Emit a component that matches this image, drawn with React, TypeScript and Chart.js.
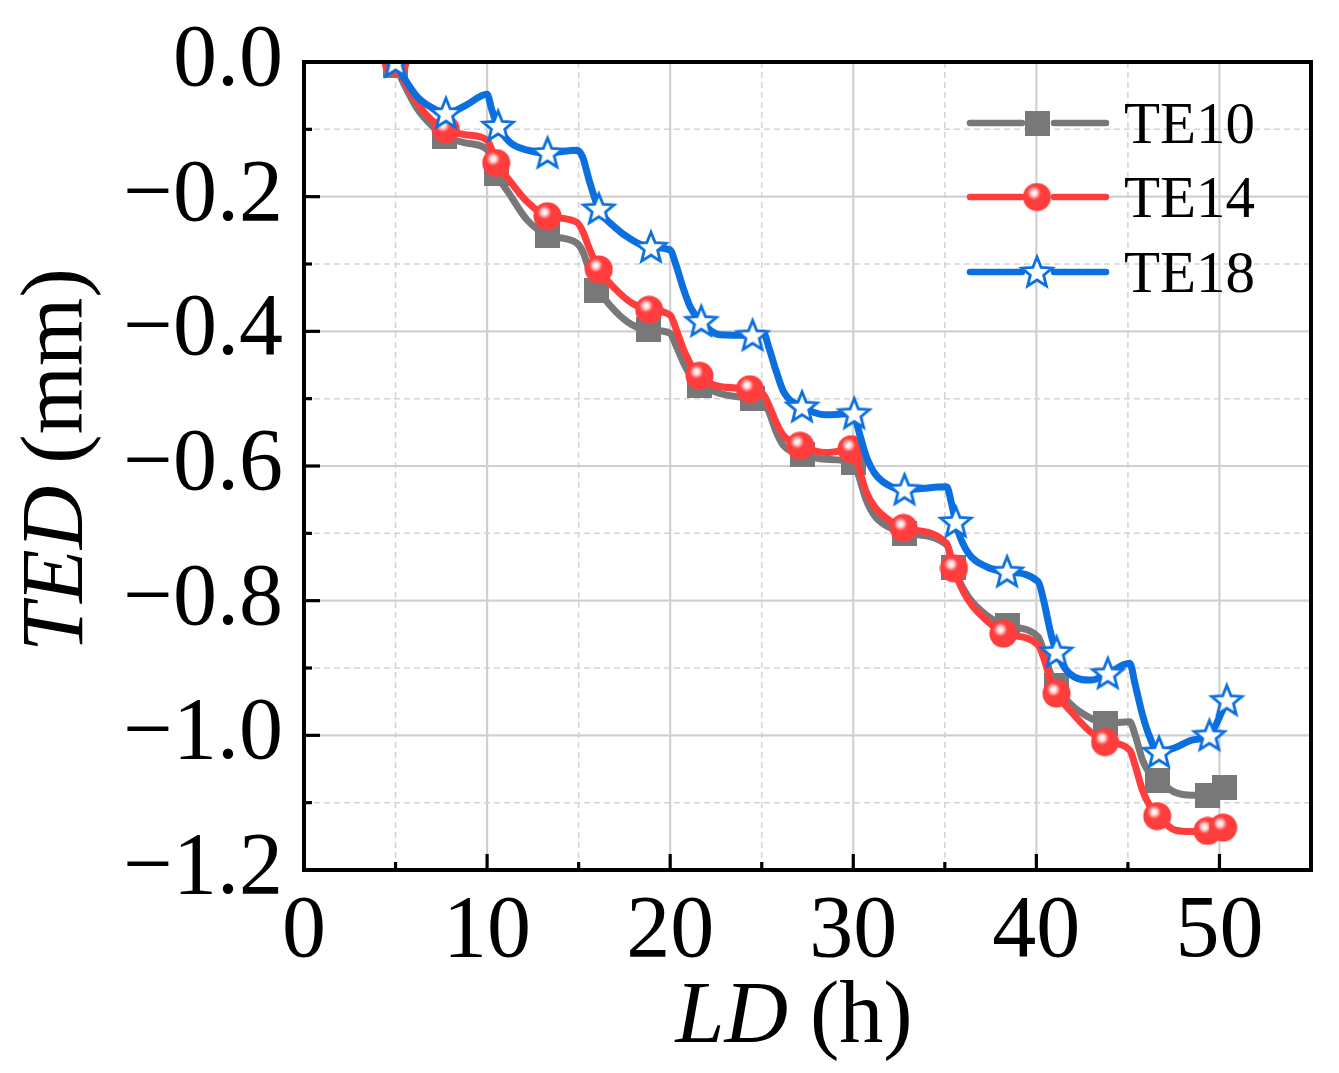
import { useEffect, useRef } from "react";
import { Chart, registerables } from "chart.js";

Chart.register(...registerables);

// time axis for the continuous curves (h)
const lineX = [
  5, 5.5, 6.2, 7, 7.75, 8.8, 10, 10.25, 10.5, 11.2, 12.2, 13.3, 14.9, 15.2, 15.6, 16.1, 17, 17.9,
  18.85, 20, 20.3, 20.7, 21.1, 21.65, 22.7, 24.45, 25.1, 25.4, 25.8, 26.2, 27.2, 28.5, 30, 30.3,
  30.7, 31.2, 32.1, 32.8, 35.1, 35.4, 35.7, 36.3, 37.3, 38.35, 40.1, 40.4, 40.8, 41.1, 41.8, 43,
  43.9, 45.1, 45.4, 45.8, 46.2, 46.65, 47.6, 48.5, 49.45, 50.3,
];

const te10Line = [
  -0.005, -0.035, -0.07, -0.095, -0.111, -0.12, -0.13, -0.145, -0.165, -0.195, -0.235, -0.257,
  -0.269, -0.28, -0.31, -0.339, -0.37, -0.39, -0.398, -0.403, -0.42, -0.445, -0.465, -0.48,
  -0.492, -0.5, -0.505, -0.52, -0.55, -0.57, -0.583, -0.59, -0.595, -0.615, -0.65, -0.675,
  -0.693, -0.7, -0.717, -0.74, -0.765, -0.795, -0.822, -0.837, -0.854, -0.875, -0.91, -0.926,
  -0.952, -0.975, -0.982, -0.98, -1.0, -1.037, -1.057, -1.067, -1.085, -1.089, -1.089, -1.077,
];

const te14Line = [
  0, -0.03, -0.062, -0.087, -0.1, -0.108, -0.116, -0.13, -0.15, -0.175, -0.208, -0.229, -0.238,
  -0.25, -0.278, -0.308, -0.337, -0.358, -0.368, -0.376, -0.395, -0.425, -0.448, -0.468, -0.482,
  -0.486, -0.494, -0.51, -0.536, -0.555, -0.571, -0.58, -0.576, -0.602, -0.638, -0.662, -0.683,
  -0.693, -0.715, -0.745, -0.768, -0.8, -0.83, -0.849, -0.866, -0.885, -0.92, -0.938, -0.962,
  -0.996, -1.01, -1.022, -1.045, -1.082, -1.105, -1.12, -1.141, -1.143, -1.142, -1.137,
];

const te18Line = [
  0, -0.025, -0.052, -0.068, -0.076, -0.065, -0.048, -0.07, -0.09, -0.118, -0.131, -0.135,
  -0.131, -0.14, -0.178, -0.218, -0.246, -0.264, -0.275, -0.279, -0.3, -0.335, -0.364, -0.385,
  -0.405, -0.406, -0.403, -0.425, -0.46, -0.49, -0.512, -0.524, -0.522, -0.548, -0.585, -0.612,
  -0.631, -0.635, -0.631, -0.66, -0.695, -0.73, -0.75, -0.757, -0.772, -0.8, -0.85, -0.876,
  -0.908, -0.918, -0.908, -0.893, -0.925, -0.97, -1.003, -1.025, -1.018, -1.007, -1.0, -0.955,
];

// marker positions
const te10MarkX = [5, 7.7, 10.5, 13.3, 16.0, 18.8, 21.6, 24.5, 27.2, 30, 32.8, 35.5, 38.4, 41.1, 43.8, 46.6, 49.35, 50.3];
const te10MarkY = [-0.005, -0.111, -0.165, -0.257, -0.339, -0.398, -0.48, -0.5, -0.583, -0.595, -0.7, -0.75, -0.837, -0.926, -0.982, -1.067, -1.089, -1.077];
const te14MarkX = [5, 7.75, 10.5, 13.3, 16.1, 18.85, 21.6, 24.35, 27.1, 29.9, 32.75, 35.5, 38.2, 41.1, 43.75, 46.6, 49.35, 50.2];
const te14MarkY = [0, -0.1, -0.15, -0.229, -0.308, -0.368, -0.466, -0.486, -0.57, -0.575, -0.692, -0.752, -0.849, -0.938, -1.01, -1.12, -1.142, -1.137];
const te18MarkX = [5, 7.75, 10.6, 13.3, 16.1, 18.95, 21.7, 24.5, 27.2, 30.05, 32.8, 35.6, 38.4, 41.1, 43.9, 46.7, 49.45, 50.4];
const te18MarkY = [0, -0.076, -0.095, -0.135, -0.218, -0.275, -0.385, -0.406, -0.512, -0.522, -0.635, -0.683, -0.757, -0.876, -0.908, -1.025, -1.0, -0.948];

const seriesNames = ["TE10", "TE14", "TE18"];
const seriesColors = ["#787878", "#ff3d3d", "#0b6fe0"];

const xMajor = [0, 10, 20, 30, 40, 50];
const yMajor = [0, -0.2, -0.4, -0.6, -0.8, -1.0, -1.2];

const FONT = "'Liberation Serif', 'Times New Roman', serif";

function makeSquare() {
  const c = document.createElement("canvas");
  c.width = 25;
  c.height = 25;
  const ctx = c.getContext("2d")!;
  ctx.fillStyle = seriesColors[0];
  ctx.fillRect(0, 0, 25, 25);
  return c;
}

function makeBall() {
  const c = document.createElement("canvas");
  c.width = 29;
  c.height = 29;
  const ctx = c.getContext("2d")!;
  ctx.beginPath();
  ctx.arc(14.5, 14.5, 14, 0, Math.PI * 2);
  ctx.fillStyle = seriesColors[1];
  ctx.fill();
  const g = ctx.createRadialGradient(11.5, 10.5, 0, 11.5, 10.5, 8);
  g.addColorStop(0, "#ffffff");
  g.addColorStop(0.3, "#ffe4e4");
  g.addColorStop(0.55, "#ffa0a0");
  g.addColorStop(1, "rgba(255,61,61,0)");
  ctx.beginPath();
  ctx.arc(11.5, 10.5, 8, 0, Math.PI * 2);
  ctx.fillStyle = g;
  ctx.fill();
  return c;
}

function makeStar() {
  const c = document.createElement("canvas");
  c.width = 38;
  c.height = 38;
  const ctx = c.getContext("2d")!;
  ctx.beginPath();
  for (let i = 0; i < 10; i++) {
    const r = i % 2 === 0 ? 16 : 7;
    const a = -Math.PI / 2 + (i * Math.PI) / 5;
    const px = 19 + r * Math.cos(a);
    const py = 20 + r * Math.sin(a);
    if (i === 0) ctx.moveTo(px, py);
    else ctx.lineTo(px, py);
  }
  ctx.closePath();
  ctx.fillStyle = "#ffffff";
  ctx.fill();
  ctx.lineWidth = 2.8;
  ctx.lineJoin = "miter";
  ctx.strokeStyle = seriesColors[2];
  ctx.stroke();
  return c;
}

const pts = (xs: number[], ys: number[]) => xs.map((x, i) => ({ x, y: ys[i] }));

const isMajorX = (v: number) => xMajor.some((m) => Math.abs(m - v) < 1e-6);
const isMajorY = (v: number) => yMajor.some((m) => Math.abs(m - v) < 1e-6);

function App() {
  const canvasRef = useRef<HTMLCanvasElement | null>(null);

  useEffect(() => {
    document.body.style.margin = "0";
    if (!canvasRef.current) return;

    const markers = [makeSquare(), makeBall(), makeStar()];

    const framePlugin = {
      id: "frame",
      beforeDatasetsDraw(chart: any) {
        const { ctx, chartArea: a } = chart;
        const xs = chart.scales.x;
        const ys = chart.scales.y;
        ctx.save();
        xs.ticks.forEach((t: any) => {
          const p = xs.getPixelForValue(t.value);
          if (p <= a.left + 1 || p >= a.right - 1) return;
          ctx.beginPath();
          if (isMajorX(t.value)) {
            ctx.setLineDash([]);
            ctx.strokeStyle = "#d0d0d0";
            ctx.lineWidth = 2.2;
          } else {
            ctx.setLineDash([6, 4]);
            ctx.strokeStyle = "#d4d4d4";
            ctx.lineWidth = 1.5;
          }
          ctx.moveTo(p, a.top);
          ctx.lineTo(p, a.bottom);
          ctx.stroke();
        });
        ys.ticks.forEach((t: any) => {
          const p = ys.getPixelForValue(t.value);
          if (p <= a.top + 1 || p >= a.bottom - 1) return;
          ctx.beginPath();
          if (isMajorY(t.value)) {
            ctx.setLineDash([]);
            ctx.strokeStyle = "#d0d0d0";
            ctx.lineWidth = 2.2;
          } else {
            ctx.setLineDash([6, 4]);
            ctx.strokeStyle = "#d4d4d4";
            ctx.lineWidth = 1.5;
          }
          ctx.moveTo(a.left, p);
          ctx.lineTo(a.right, p);
          ctx.stroke();
        });
        ctx.restore();
      },
      afterDatasetsDraw(chart: any) {
        const { ctx, chartArea: a } = chart;
        const xs = chart.scales.x;
        const ys = chart.scales.y;
        ctx.save();
        ctx.strokeStyle = "#000";
        ctx.lineWidth = 4;
        ctx.setLineDash([]);
        ctx.strokeRect(a.left, a.top, a.right - a.left, a.bottom - a.top);
        ctx.lineWidth = 3.2;
        xs.ticks.forEach((t: any) => {
          const p = xs.getPixelForValue(t.value);
          if (p <= a.left + 1 || p >= a.right - 1) return;
          const len = isMajorX(t.value) ? 16 : 8;
          ctx.beginPath();
          ctx.moveTo(p, a.bottom);
          ctx.lineTo(p, a.bottom - len);
          ctx.stroke();
        });
        ys.ticks.forEach((t: any) => {
          const p = ys.getPixelForValue(t.value);
          if (p <= a.top + 1 || p >= a.bottom - 1) return;
          const len = isMajorY(t.value) ? 16 : 8;
          ctx.beginPath();
          ctx.moveTo(a.left, p);
          ctx.lineTo(a.left + len, p);
          ctx.stroke();
        });
        ctx.restore();
      },
      afterDraw(chart: any) {
        const { ctx } = chart;
        ctx.save();
        // legend
        const rows = [123, 197, 272];
        seriesNames.forEach((name, i) => {
          const y = rows[i];
          ctx.strokeStyle = seriesColors[i];
          ctx.lineWidth = 6.5;
          ctx.lineCap = "round";
          ctx.beginPath();
          ctx.moveTo(970, y);
          ctx.lineTo(1022, y);
          ctx.moveTo(1054, y);
          ctx.lineTo(1106, y);
          ctx.stroke();
          const m = markers[i];
          ctx.drawImage(m, 1037 - m.width / 2, y - m.height / 2);
          ctx.fillStyle = "#000";
          ctx.font = `59px ${FONT}`;
          ctx.textBaseline = "alphabetic";
          ctx.textAlign = "left";
          ctx.fillText(name, 1124, y + 20);
        });

        // axis titles with italic symbols
        const drawTitle = (italic: string, rest: string) => {
          ctx.font = `italic 88px ${FONT}`;
          const w1 = ctx.measureText(italic).width;
          ctx.font = `88px ${FONT}`;
          const w2 = ctx.measureText(rest).width;
          const start = -(w1 + w2) / 2;
          ctx.textAlign = "left";
          ctx.textBaseline = "alphabetic";
          ctx.fillStyle = "#000";
          ctx.font = `italic 88px ${FONT}`;
          ctx.fillText(italic, start, 0);
          ctx.font = `88px ${FONT}`;
          ctx.fillText(rest, start + w1, 0);
        };
        ctx.save();
        ctx.translate(794, 1042);
        drawTitle("LD", " (h)");
        ctx.restore();
        ctx.save();
        ctx.translate(82, 460);
        ctx.rotate(-Math.PI / 2);
        drawTitle("TED", " (mm)");
        ctx.restore();
        ctx.restore();
      },
    };

    const lineSet = (data: number[], i: number) => ({
      label: seriesNames[i],
      data: pts(lineX, data),
      borderColor: seriesColors[i],
      backgroundColor: seriesColors[i],
      borderWidth: 7,
      pointRadius: 0,
      pointHoverRadius: 0,
      cubicInterpolationMode: "monotone" as const,
      borderJoinStyle: "round" as const,
      borderCapStyle: "round" as const,
      fill: false,
    });
    const markSet = (xs: number[], ys: number[], i: number) => ({
      label: seriesNames[i] + " markers",
      data: pts(xs, ys),
      showLine: false,
      pointStyle: markers[i],
      pointRadius: 12,
      pointHoverRadius: 12,
      borderWidth: 0,
      borderColor: seriesColors[i],
      backgroundColor: seriesColors[i],
    });

    const chart = new Chart(canvasRef.current, {
      type: "line",
      data: {
        datasets: [
          markSet(te18MarkX, te18MarkY, 2),
          lineSet(te18Line, 2),
          markSet(te14MarkX, te14MarkY, 1),
          lineSet(te14Line, 1),
          markSet(te10MarkX, te10MarkY, 0),
          lineSet(te10Line, 0),
        ] as any,
      },
      options: {
        animation: false,
        responsive: false,
        events: [],
        layout: { padding: { left: 0, top: 62, right: 28, bottom: 0 } },
        plugins: {
          legend: { display: false },
          tooltip: { enabled: false },
        },
        scales: {
          x: {
            type: "linear",
            min: 0,
            max: 55,
            grid: { display: false, drawTicks: false },
            border: { display: false },
            afterFit: (s: any) => {
              s.height = 203;
              s.paddingLeft = 0;
              s.paddingRight = 0;
            },
            ticks: {
              stepSize: 5,
              autoSkip: false,
              maxRotation: 0,
              padding: 10,
              color: "#000",
              font: { family: FONT, size: 88 },
              callback: (v: any) => (isMajorX(Number(v)) ? String(v) : ""),
            },
          },
          y: {
            type: "linear",
            min: -1.2,
            max: 0,
            grid: { display: false, drawTicks: false },
            border: { display: false },
            afterFit: (s: any) => {
              s.width = 304;
              s.paddingTop = 0;
              s.paddingBottom = 0;
            },
            ticks: {
              stepSize: 0.1,
              autoSkip: false,
              padding: 21,
              color: "#000",
              font: { family: FONT, size: 88 },
              callback: (v: any) => {
                const n = Number(v);
                if (!isMajorY(n)) return "";
                if (Math.abs(n) < 1e-9) return "0.0";
                return "\u2212" + Math.abs(n).toFixed(1);
              },
            },
          },
        },
      },
      plugins: [framePlugin],
    });

    return () => {
      chart.destroy();
    };
  }, []);

  return (
    <div style={{ width: 1339, height: 1073, background: "#fff" }}>
      <canvas ref={canvasRef} width={1339} height={1073} style={{ display: "block" }} />
    </div>
  );
}

export default App;
